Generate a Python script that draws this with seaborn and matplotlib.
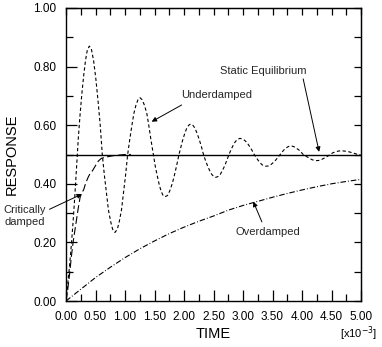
import matplotlib
matplotlib.use("Agg")
import matplotlib.pyplot as plt
import seaborn as sns
import pandas as pd

# ---- data (time in units of 1e-3) ----
under_t = [0, 0.03, 0.06, 0.09, 0.12, 0.15, 0.18, 0.21, 0.24, 0.27, 0.30, 0.33, 0.36, 0.395,
           0.43, 0.468, 0.505, 0.542, 0.58, 0.615, 0.65, 0.687, 0.72, 0.758, 0.79, 0.83,
           0.87, 0.902, 0.94, 0.974, 1.01, 1.045, 1.08, 1.115, 1.15, 1.185, 1.22, 1.254,
           1.29, 1.33, 1.37, 1.405, 1.44, 1.48, 1.513, 1.546, 1.58, 1.612, 1.645, 1.678,
           1.72, 1.757, 1.80, 1.836, 1.875, 1.915, 1.95, 1.981, 2.015, 2.047, 2.08, 2.113,
           2.15, 2.185, 2.22, 2.257, 2.295, 2.33, 2.365, 2.40, 2.435, 2.47, 2.505, 2.54,
           2.577, 2.614, 2.65, 2.689, 2.725, 2.763, 2.794, 2.825, 2.857, 2.888, 2.92, 2.95,
           2.99, 3.03, 3.07, 3.11, 3.15, 3.19, 3.223, 3.257, 3.29, 3.323, 3.357, 3.39,
           3.43, 3.47, 3.51, 3.55, 3.59, 3.63, 3.66, 3.69, 3.72, 3.75, 3.78, 3.81,
           3.845, 3.88, 3.915, 3.95, 3.985, 4.02, 4.06, 4.097, 4.135, 4.173, 4.21, 4.25,
           4.29, 4.325, 4.36, 4.40, 4.44, 4.475, 4.506, 4.537, 4.57, 4.60, 4.63, 4.66,
           4.70, 4.75, 4.80, 4.85, 4.90, 4.95, 5.0]
under_v = [0, 0.06, 0.12, 0.19, 0.27, 0.36, 0.46, 0.56, 0.64, 0.71, 0.77, 0.82, 0.855, 0.87,
           0.86, 0.82, 0.76, 0.685, 0.60, 0.50, 0.43, 0.367, 0.31, 0.27, 0.245, 0.234,
           0.245, 0.27, 0.31, 0.367, 0.43, 0.50, 0.55, 0.597, 0.64, 0.668, 0.687, 0.694,
           0.687, 0.668, 0.64, 0.597, 0.55, 0.50, 0.46, 0.428, 0.397, 0.375, 0.36, 0.356,
           0.36, 0.375, 0.40, 0.428, 0.462, 0.50, 0.528, 0.552, 0.573, 0.59, 0.60, 0.604,
           0.60, 0.59, 0.573, 0.552, 0.527, 0.50, 0.479, 0.461, 0.445, 0.432, 0.425, 0.422,
           0.425, 0.432, 0.445, 0.461, 0.48, 0.50, 0.515, 0.528, 0.54, 0.548, 0.553, 0.555,
           0.553, 0.548, 0.54, 0.528, 0.515, 0.50, 0.49, 0.48, 0.472, 0.465, 0.461, 0.46,
           0.461, 0.465, 0.472, 0.48, 0.49, 0.50, 0.508, 0.515, 0.52, 0.525, 0.528, 0.529,
           0.528, 0.525, 0.52, 0.515, 0.508, 0.50, 0.495, 0.49, 0.486, 0.482, 0.48, 0.479,
           0.48, 0.482, 0.486, 0.49, 0.495, 0.50, 0.504, 0.507, 0.509, 0.511, 0.512, 0.513,
           0.512, 0.511, 0.509, 0.506, 0.503, 0.50, 0.497]

crit_t = [0, 0.03, 0.06, 0.09, 0.12, 0.15, 0.18, 0.21, 0.24, 0.27, 0.30, 0.33, 0.37, 0.41,
          0.45, 0.50, 0.55, 0.60, 0.70, 0.80, 0.90, 1.00, 1.10]
crit_v = [0, 0.04, 0.09, 0.15, 0.20, 0.24, 0.28, 0.32, 0.355, 0.37, 0.38, 0.40, 0.42, 0.436,
          0.445, 0.462, 0.478, 0.487, 0.492, 0.496, 0.498, 0.50, 0.50]

over_t = [0, 0.25, 0.5, 0.75, 1.0, 1.25, 1.5, 1.75, 2.0, 2.25, 2.5, 2.75, 3.0, 3.25, 3.5,
          3.75, 4.0, 4.25, 4.5, 4.75, 5.0]
over_v = [0, 0.04, 0.08, 0.115, 0.148, 0.178, 0.205, 0.23, 0.252, 0.272, 0.29, 0.31, 0.326,
          0.34, 0.354, 0.367, 0.379, 0.39, 0.40, 0.408, 0.415]

static_t = [0.0, 5.0]
static_v = [0.5, 0.5]

x_ticks = [0.0, 0.5, 1.0, 1.5, 2.0, 2.5, 3.0, 3.5, 4.0, 4.5, 5.0]
x_labels = ["0.00", "0.50", "1.00", "1.50", "2.00", "2.50", "3.00", "3.50", "4.00", "4.50", "5.00"]
y_ticks = [0.0, 0.2, 0.4, 0.6, 0.8, 1.0]
y_labels = ["0.00", "0.20", "0.40", "0.60", "0.80", "1.00"]

# ---- plotting ----
sns.set_style("ticks")
plt.rcParams["font.family"] = ["Liberation Sans", "DejaVu Sans"]

fig = plt.figure(figsize=(3.82, 3.47), dpi=100)
ax = fig.add_axes([66 / 382, 46 / 347, 295 / 382, 293 / 347])

lw = 0.8
sns.lineplot(x=static_t, y=static_v, ax=ax, color="black", lw=1.0, errorbar=None)
sns.lineplot(x=under_t, y=under_v, ax=ax, color="black", lw=lw, errorbar=None,
             linestyle=(0, (3.0, 2.2)))
sns.lineplot(x=crit_t, y=crit_v, ax=ax, color="black", lw=lw, errorbar=None,
             linestyle=(0, (7.0, 3.0)))
sns.lineplot(x=over_t, y=over_v, ax=ax, color="black", lw=lw, errorbar=None,
             linestyle=(0, (5.0, 1.8, 0.8, 1.8)))

ax.set_xlim(0, 5.0)
ax.set_ylim(0, 1.0)
ax.set_xticks(x_ticks)
ax.set_xticklabels(x_labels)
ax.set_yticks(y_ticks)
ax.set_yticklabels(y_labels)
ax.set_xticks([0.25 + 0.5 * i for i in range(10)], minor=True)
ax.set_yticks([0.1 + 0.2 * i for i in range(5)], minor=True)
ax.tick_params(which="major", direction="in", length=8, width=0.9, pad=7,
               labelsize=8.5, color="black", labelcolor="black")
ax.tick_params(which="minor", direction="in", length=5, width=0.9, color="black")
ax.set_xlabel("")
ax.set_ylabel("")
for s in ax.spines.values():
    s.set_color("black")
    s.set_linewidth(1.0)

# top / right inward ticks (all short)
top = ax.secondary_xaxis("top")
top.set_xticks([0.25 * i for i in range(21)])
top.tick_params(direction="in", length=5, width=0.9, labeltop=False, color="black")
right = ax.secondary_yaxis("right")
right.set_yticks([0.1 * i for i in range(11)])
right.tick_params(direction="in", length=5, width=0.9, labelright=False, color="black")

# axis titles
fig.text(12 / 382, 1 - 154 / 347, "RESPONSE", rotation=90, ha="center", va="center",
         fontsize=10.5, color="black")
fig.text(213 / 382, 1 - 334 / 347, "TIME", ha="center", va="center",
         fontsize=10.5, color="black")
fig.text(359 / 382, 1 - 334 / 347, r"[x10$^{-3}$]", ha="center", va="center",
         fontsize=8, color="black")

# annotations
arrow = dict(arrowstyle="-|>", color="black", lw=0.7, mutation_scale=7,
             shrinkA=0, shrinkB=0)
ax.annotate("", xy=(4.29, 0.509), xytext=(4.02, 0.758), arrowprops=arrow)
ax.text(3.35, 0.785, "Static Equilibrium", ha="center", va="center", fontsize=8)

ax.annotate("", xy=(1.452, 0.612), xytext=(1.96, 0.669), arrowprops=arrow)
ax.text(2.55, 0.703, "Underdamped", ha="center", va="center", fontsize=8)

ax.annotate("", xy=(0.27, 0.365), xytext=(-0.28, 0.313), arrowprops=arrow,
            annotation_clip=False)
fig.text(25 / 382, 1 - 216 / 347, "Critically\ndamped", ha="center", va="center",
         fontsize=8, linespacing=1.3)

ax.annotate("", xy=(3.175, 0.339), xytext=(3.32, 0.27), arrowprops=arrow)
ax.text(3.415, 0.235, "Overdamped", ha="center", va="center", fontsize=8)

fig.savefig("out.png", dpi=100, facecolor="white")
